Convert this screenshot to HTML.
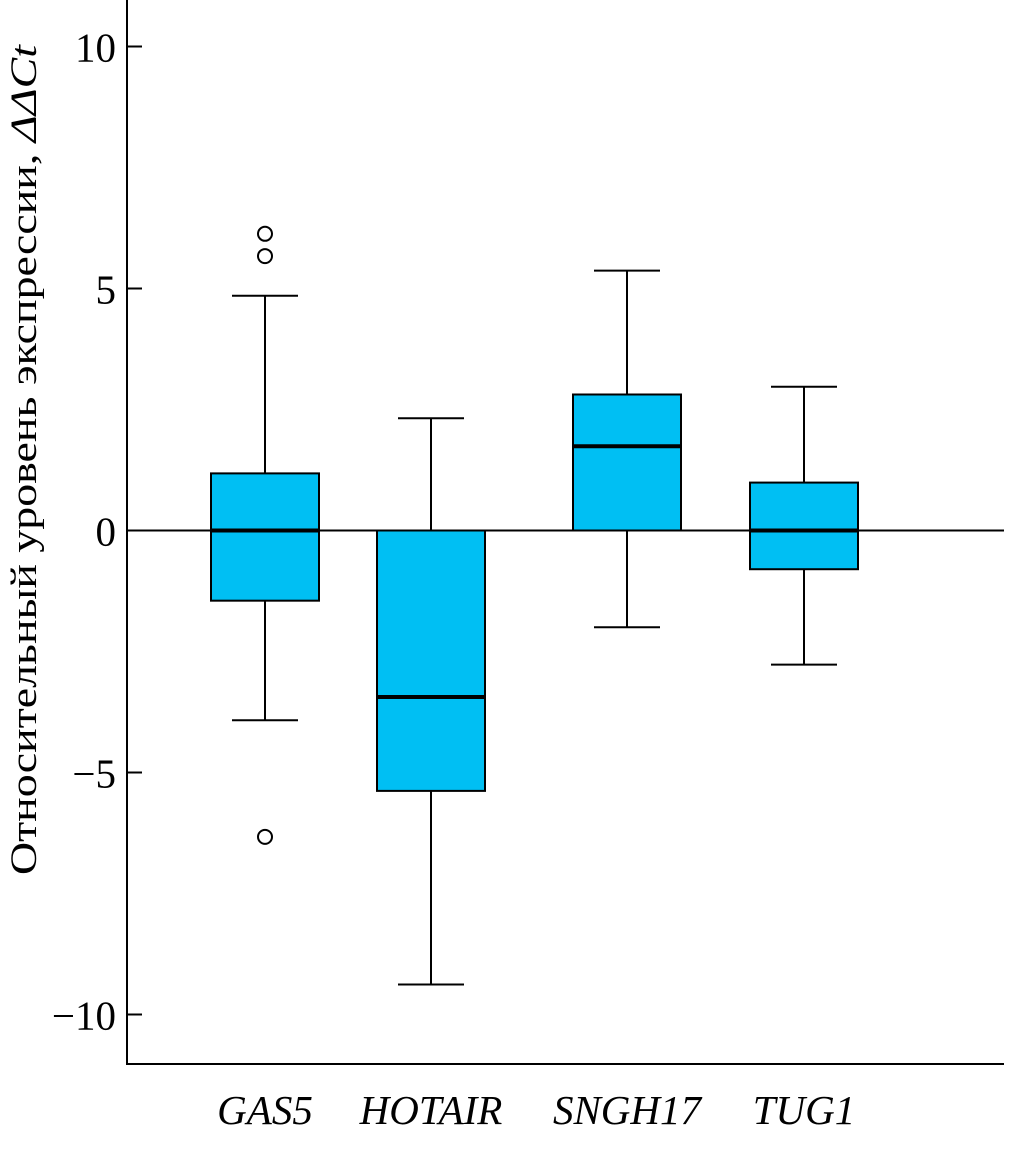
<!DOCTYPE html>
<html><head><meta charset="utf-8"><style>
html,body{margin:0;padding:0;background:#fff;}
svg{display:block;font-family:"Liberation Serif","Times New Roman",serif;}
</style></head><body>
<svg id="chart" width="1010" height="1157">
<g id="axes"></g><g id="marks"></g>
<text transform="translate(36,460) rotate(-90)" text-anchor="middle" font-size="37" textLength="830" lengthAdjust="spacingAndGlyphs">Относительный уровень экспрессии,  <tspan font-style="italic">ΔΔCt</tspan></text>
</svg>
<script>
const categories=["GAS5","HOTAIR","SNGH17","TUG1"];
const q1=[-1.45,-5.38,0,-0.80];
const q3=[1.18,0,2.81,0.99];
const medians=[0,-3.44,1.74,0];
const whiskerLow=[-3.92,-9.38,-2.0,-2.77];
const whiskerHigh=[4.85,2.32,5.37,2.97];
const outliers=[[6.13,5.67,-6.33],[],[],[]];
const yTicks=[10,5,0,-5,-10];
const yTickLabels=["10","5","0","\u22125","\u221210"];

const NS="http://www.w3.org/2000/svg";
const y=v=>530.5-v*48.4;
const centers=[265,431,627,804];
const x=i=>centers[i];
function mk(p,tag,a){const e=document.createElementNS(NS,tag);for(const k in a)e.setAttribute(k,a[k]);p.appendChild(e);return e;}
const ax=document.getElementById('axes'),mg=document.getElementById('marks');
let e=mk(ax,'line',{x1:127,y1:0,x2:127,y2:1064,stroke:'#000','stroke-width':2});

e=mk(ax,'line',{x1:126,y1:1064,x2:1004,y2:1064,stroke:'#000','stroke-width':2});

yTicks.forEach((t,i)=>{
 let l=mk(ax,'line',{x1:127,x2:142,y1:y(t),y2:y(t),stroke:'#000','stroke-width':2});
 
 let tx=mk(ax,'text',{x:116,y:y(t)+15,'text-anchor':'end','font-size':41});
 tx.textContent=yTickLabels[i];
 
});
categories.forEach((c,i)=>{
 const cx=x(i),w=54;
 let g=mk(mg,'g',{});
 
 mk(g,'line',{x1:cx,x2:cx,y1:y(whiskerHigh[i]),y2:y(q3[i]),stroke:'#000','stroke-width':2});
 mk(g,'line',{x1:cx,x2:cx,y1:y(q1[i]),y2:y(whiskerLow[i]),stroke:'#000','stroke-width':2});
 mk(g,'line',{x1:cx-33,x2:cx+33,y1:y(whiskerHigh[i]),y2:y(whiskerHigh[i]),stroke:'#000','stroke-width':2});
 mk(g,'line',{x1:cx-33,x2:cx+33,y1:y(whiskerLow[i]),y2:y(whiskerLow[i]),stroke:'#000','stroke-width':2});
 mk(g,'rect',{x:cx-w,y:y(q3[i]),width:2*w,height:y(q1[i])-y(q3[i]),fill:'#00bff3',stroke:'#000','stroke-width':2});
 outliers[i].forEach(o=>{let c2=mk(g,'circle',{cx:cx,cy:y(o),r:7,fill:'#fff',stroke:'#000','stroke-width':2});
  });
 let lb=mk(ax,'text',{x:cx,y:1124,'text-anchor':'middle','font-size':41,'font-style':'italic'});
 lb.textContent=c;
 
});
e=mk(mg,'line',{x1:127,x2:1004,y1:y(0),y2:y(0),stroke:'#000','stroke-width':2});

categories.forEach((c,i)=>{
 let m=mk(mg,'line',{x1:x(i)-54,x2:x(i)+54,y1:y(medians[i]),y2:y(medians[i]),stroke:'#000','stroke-width':4});
 
});
</script>
</body></html>
